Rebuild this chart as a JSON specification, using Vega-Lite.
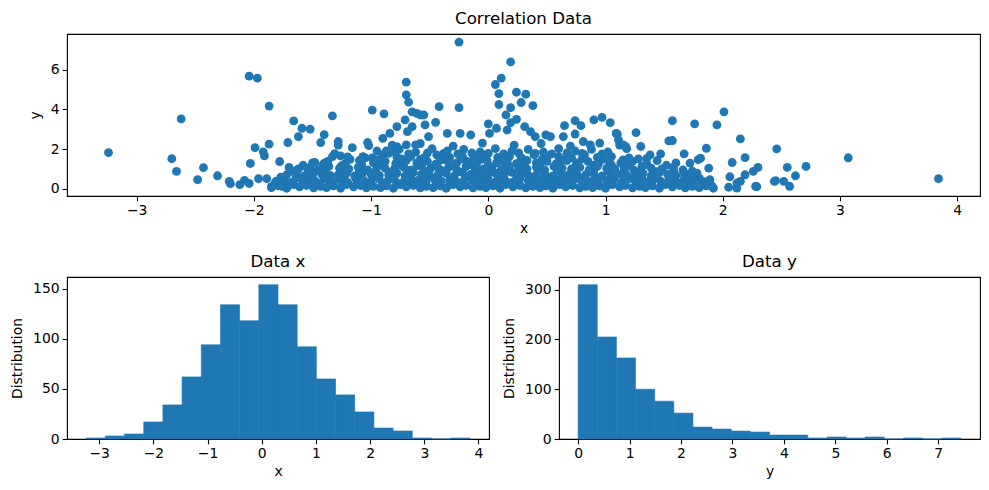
{
"$schema": "https://vega.github.io/schema/vega-lite/v6.json",
"padding": {"left": 10, "top": 10, "right": 5, "bottom": 5},
"bounds": "flush",
"spacing": 81,
"config": {
 "font": "DejaVu Sans",
 "view": {"stroke": "#000000", "strokeWidth": 1.1},
 "axis": {"grid": false, "domain": false, "ticks": true, "tickColor": "#000000", "tickSize": 4.86, "tickWidth": 1.1, "labelColor": "#000000", "labelFontSize": 13.9, "labelFont": "DejaVu Sans", "titleFont": "DejaVu Sans", "titleFontSize": 13.9, "titleFontWeight": "normal", "titleColor": "#000000", "labelPadding": 3, "titlePadding": 4, "labelFlush": false, "labelOverlap": false},
 "axisY": {"titlePadding": 8},
 "title": {"font": "DejaVu Sans", "fontSize": 16.67, "fontWeight": "normal", "color": "#000000", "offset": 6, "anchor": "middle", "frame": "group"}
},
"datasets": {
 "hx": [
  {"b0": -3.24, "b1": -2.886, "count": 1},
  {"b0": -2.886, "b1": -2.532, "count": 3},
  {"b0": -2.532, "b1": -2.178, "count": 5},
  {"b0": -2.178, "b1": -1.824, "count": 17},
  {"b0": -1.824, "b1": -1.47, "count": 34},
  {"b0": -1.47, "b1": -1.116, "count": 62},
  {"b0": -1.116, "b1": -0.762, "count": 94},
  {"b0": -0.762, "b1": -0.408, "count": 134},
  {"b0": -0.408, "b1": -0.054, "count": 118},
  {"b0": -0.054, "b1": 0.3, "count": 154},
  {"b0": 0.3, "b1": 0.654, "count": 134},
  {"b0": 0.654, "b1": 1.008, "count": 92},
  {"b0": 1.008, "b1": 1.362, "count": 60},
  {"b0": 1.362, "b1": 1.716, "count": 44},
  {"b0": 1.716, "b1": 2.07, "count": 27},
  {"b0": 2.07, "b1": 2.424, "count": 11},
  {"b0": 2.424, "b1": 2.778, "count": 8},
  {"b0": 2.778, "b1": 3.132, "count": 1},
  {"b0": 3.132, "b1": 3.486, "count": 0},
  {"b0": 3.486, "b1": 3.84, "count": 1}
 ],
 "hy": [
  {"b0": 0, "b1": 0.372, "count": 310},
  {"b0": 0.372, "b1": 0.744, "count": 205},
  {"b0": 0.744, "b1": 1.116, "count": 163},
  {"b0": 1.116, "b1": 1.488, "count": 100},
  {"b0": 1.488, "b1": 1.86, "count": 76},
  {"b0": 1.86, "b1": 2.232, "count": 52},
  {"b0": 2.232, "b1": 2.604, "count": 24},
  {"b0": 2.604, "b1": 2.976, "count": 20},
  {"b0": 2.976, "b1": 3.348, "count": 16},
  {"b0": 3.348, "b1": 3.72, "count": 14},
  {"b0": 3.72, "b1": 4.092, "count": 8},
  {"b0": 4.092, "b1": 4.464, "count": 8},
  {"b0": 4.464, "b1": 4.836, "count": 2},
  {"b0": 4.836, "b1": 5.208, "count": 4},
  {"b0": 5.208, "b1": 5.58, "count": 2},
  {"b0": 5.58, "b1": 5.952, "count": 4},
  {"b0": 5.952, "b1": 6.324, "count": 0},
  {"b0": 6.324, "b1": 6.696, "count": 2},
  {"b0": 6.696, "b1": 7.068, "count": 0},
  {"b0": 7.068, "b1": 7.44, "count": 2}
 ],
 "pts": [
  {"x":-1.85,"y":0.05},{"x":-1.79,"y":0.14},{"x":-1.72,"y":0.02},{"x":-1.66,"y":0.2},{"x":-1.61,"y":0.09},{"x":-1.55,"y":0.16},{"x":-1.49,"y":0.04},{"x":-1.43,"y":0.11},
  {"x":-1.38,"y":0.05},{"x":-1.32,"y":0.14},{"x":-1.26,"y":0.02},{"x":-1.21,"y":0.2},{"x":-1.15,"y":0.09},{"x":-1.09,"y":0.16},{"x":-1.04,"y":0.04},{"x":-0.98,"y":0.11},
  {"x":-0.92,"y":0.05},{"x":-0.87,"y":0.14},{"x":-0.81,"y":0.02},{"x":-0.75,"y":0.2},{"x":-0.70,"y":0.09},{"x":-0.64,"y":0.16},{"x":-0.58,"y":0.04},{"x":-0.53,"y":0.11},
  {"x":-0.47,"y":0.05},{"x":-0.41,"y":0.14},{"x":-0.36,"y":0.02},{"x":-0.30,"y":0.2},{"x":-0.24,"y":0.09},{"x":-0.19,"y":0.16},{"x":-0.13,"y":0.04},{"x":-0.07,"y":0.11},
  {"x":-0.02,"y":0.05},{"x":0.04,"y":0.14},{"x":0.10,"y":0.02},{"x":0.15,"y":0.2},{"x":0.21,"y":0.09},{"x":0.27,"y":0.16},{"x":0.32,"y":0.04},{"x":0.38,"y":0.11},
  {"x":0.44,"y":0.05},{"x":0.49,"y":0.14},{"x":0.55,"y":0.02},{"x":0.61,"y":0.2},{"x":0.66,"y":0.09},{"x":0.72,"y":0.16},{"x":0.78,"y":0.04},{"x":0.83,"y":0.11},
  {"x":0.89,"y":0.05},{"x":0.95,"y":0.14},{"x":1.00,"y":0.02},{"x":1.06,"y":0.2},{"x":1.12,"y":0.09},{"x":1.17,"y":0.16},{"x":1.23,"y":0.04},{"x":1.29,"y":0.11},
  {"x":1.34,"y":0.05},{"x":1.40,"y":0.14},{"x":1.46,"y":0.02},{"x":1.51,"y":0.2},{"x":1.57,"y":0.09},{"x":1.63,"y":0.16},{"x":1.68,"y":0.04},{"x":1.74,"y":0.11},
  {"x":1.80,"y":0.05},{"x":1.86,"y":0.14},{"x":1.92,"y":0.02},
  {"x":-1.82,"y":0.26},{"x":-1.69,"y":0.22},{"x":-1.58,"y":0.3},{"x":-1.46,"y":0.24},{"x":-1.35,"y":0.26},{"x":-1.24,"y":0.22},{"x":-1.12,"y":0.3},{"x":-1.01,"y":0.24},
  {"x":-0.9,"y":0.26},{"x":-0.78,"y":0.22},{"x":-0.67,"y":0.3},{"x":-0.56,"y":0.24},{"x":-0.44,"y":0.26},{"x":-0.33,"y":0.22},{"x":-0.22,"y":0.3},{"x":-0.1,"y":0.24},
  {"x":0.01,"y":0.26},{"x":0.12,"y":0.22},{"x":0.24,"y":0.3},{"x":0.35,"y":0.24},{"x":0.46,"y":0.26},{"x":0.58,"y":0.22},{"x":0.69,"y":0.3},{"x":0.8,"y":0.24},
  {"x":0.92,"y":0.26},{"x":1.03,"y":0.22},{"x":1.14,"y":0.3},{"x":1.26,"y":0.24},{"x":1.37,"y":0.26},{"x":1.48,"y":0.22},{"x":1.6,"y":0.3},{"x":1.71,"y":0.24},{"x":1.83,"y":0.26},
  {"x":-1.81,"y":0.38},{"x":-1.74,"y":0.45},{"x":-1.68,"y":0.32},{"x":-1.60,"y":0.5},{"x":-1.53,"y":0.41},{"x":-1.47,"y":0.35},{"x":-1.40,"y":0.48},
  {"x":-1.33,"y":0.38},{"x":-1.27,"y":0.45},{"x":-1.20,"y":0.32},{"x":-1.13,"y":0.5},{"x":-1.06,"y":0.41},{"x":-1.00,"y":0.35},{"x":-0.93,"y":0.48},
  {"x":-0.86,"y":0.38},{"x":-0.80,"y":0.45},{"x":-0.73,"y":0.32},{"x":-0.66,"y":0.5},{"x":-0.60,"y":0.41},{"x":-0.53,"y":0.35},{"x":-0.46,"y":0.48},
  {"x":-0.40,"y":0.38},{"x":-0.33,"y":0.45},{"x":-0.26,"y":0.32},{"x":-0.20,"y":0.5},{"x":-0.13,"y":0.41},{"x":-0.06,"y":0.35},{"x":0.00,"y":0.48},
  {"x":0.07,"y":0.38},{"x":0.14,"y":0.45},{"x":0.20,"y":0.32},{"x":0.27,"y":0.5},{"x":0.34,"y":0.41},{"x":0.41,"y":0.35},{"x":0.47,"y":0.48},
  {"x":0.54,"y":0.38},{"x":0.61,"y":0.45},{"x":0.67,"y":0.32},{"x":0.74,"y":0.5},{"x":0.81,"y":0.41},{"x":0.87,"y":0.35},{"x":0.94,"y":0.48},
  {"x":1.01,"y":0.38},{"x":1.07,"y":0.45},{"x":1.14,"y":0.32},{"x":1.21,"y":0.5},{"x":1.27,"y":0.41},{"x":1.34,"y":0.35},{"x":1.41,"y":0.48},
  {"x":1.47,"y":0.38},{"x":1.54,"y":0.45},{"x":1.61,"y":0.32},{"x":1.67,"y":0.5},{"x":1.74,"y":0.41},{"x":1.84,"y":0.35},
  {"x":-1.77,"y":0.58},{"x":-1.64,"y":0.55},{"x":-1.5,"y":0.6},{"x":-1.37,"y":0.52},{"x":-1.23,"y":0.58},{"x":-1.1,"y":0.55},{"x":-0.96,"y":0.6},{"x":-0.83,"y":0.52},
  {"x":-0.69,"y":0.58},{"x":-0.56,"y":0.55},{"x":-0.43,"y":0.6},{"x":-0.3,"y":0.52},{"x":-0.16,"y":0.58},{"x":-0.03,"y":0.55},{"x":0.1,"y":0.6},{"x":0.24,"y":0.52},
  {"x":0.37,"y":0.58},{"x":0.51,"y":0.55},{"x":0.64,"y":0.6},{"x":0.77,"y":0.52},{"x":0.91,"y":0.58},{"x":1.04,"y":0.55},{"x":1.17,"y":0.6},{"x":1.31,"y":0.52},
  {"x":1.44,"y":0.58},{"x":1.57,"y":0.55},{"x":1.71,"y":0.6},{"x":1.8,"y":0.52},
  {"x":-1.72,"y":0.7},{"x":-1.64,"y":0.78},{"x":-1.57,"y":0.64},{"x":-1.49,"y":0.82},{"x":-1.42,"y":0.72},{"x":-1.35,"y":0.67},
  {"x":-1.28,"y":0.7},{"x":-1.21,"y":0.78},{"x":-1.14,"y":0.64},{"x":-1.07,"y":0.82},{"x":-1.00,"y":0.72},{"x":-0.93,"y":0.67},
  {"x":-0.85,"y":0.7},{"x":-0.78,"y":0.78},{"x":-0.71,"y":0.64},{"x":-0.64,"y":0.82},{"x":-0.57,"y":0.72},{"x":-0.50,"y":0.67},
  {"x":-0.43,"y":0.7},{"x":-0.36,"y":0.78},{"x":-0.29,"y":0.64},{"x":-0.22,"y":0.82},{"x":-0.15,"y":0.72},{"x":-0.08,"y":0.67},
  {"x":-0.01,"y":0.7},{"x":0.06,"y":0.78},{"x":0.13,"y":0.64},{"x":0.20,"y":0.82},{"x":0.27,"y":0.72},{"x":0.34,"y":0.67},
  {"x":0.41,"y":0.7},{"x":0.48,"y":0.78},{"x":0.55,"y":0.64},{"x":0.62,"y":0.82},{"x":0.69,"y":0.72},{"x":0.76,"y":0.67},
  {"x":0.83,"y":0.7},{"x":0.90,"y":0.78},{"x":0.97,"y":0.64},{"x":1.04,"y":0.82},{"x":1.11,"y":0.72},{"x":1.18,"y":0.67},
  {"x":1.25,"y":0.7},{"x":1.32,"y":0.78},{"x":1.39,"y":0.64},{"x":1.46,"y":0.82},{"x":1.53,"y":0.72},{"x":1.60,"y":0.67},
  {"x":1.70,"y":0.7},{"x":1.78,"y":0.78},
  {"x":-1.68,"y":0.88},{"x":-1.53,"y":0.9},{"x":-1.39,"y":0.86},{"x":-1.24,"y":0.92},{"x":-1.1,"y":0.88},{"x":-0.96,"y":0.9},{"x":-0.82,"y":0.86},{"x":-0.68,"y":0.92},
  {"x":-0.54,"y":0.88},{"x":-0.39,"y":0.9},{"x":-0.25,"y":0.86},{"x":-0.11,"y":0.92},{"x":0.03,"y":0.88},{"x":0.17,"y":0.9},{"x":0.31,"y":0.86},{"x":0.45,"y":0.92},
  {"x":0.59,"y":0.88},{"x":0.74,"y":0.9},{"x":0.88,"y":0.86},{"x":1.02,"y":0.92},{"x":1.16,"y":0.88},{"x":1.3,"y":0.9},{"x":1.44,"y":0.86},{"x":1.58,"y":0.92},{"x":1.74,"y":0.88},
  {"x":-1.62,"y":1.0},{"x":-1.52,"y":1.08},{"x":-1.45,"y":0.95},{"x":-1.36,"y":1.12},{"x":-1.27,"y":1.03},
  {"x":-1.19,"y":1.0},{"x":-1.11,"y":1.08},{"x":-1.03,"y":0.95},{"x":-0.95,"y":1.12},{"x":-0.88,"y":1.03},
  {"x":-0.80,"y":1.0},{"x":-0.72,"y":1.08},{"x":-0.65,"y":0.95},{"x":-0.57,"y":1.12},{"x":-0.49,"y":1.03},
  {"x":-0.42,"y":1.0},{"x":-0.34,"y":1.08},{"x":-0.27,"y":0.95},{"x":-0.19,"y":1.12},{"x":-0.11,"y":1.03},
  {"x":-0.04,"y":1.0},{"x":0.03,"y":1.08},{"x":0.11,"y":0.95},{"x":0.18,"y":1.12},{"x":0.26,"y":1.03},
  {"x":0.33,"y":1.0},{"x":0.41,"y":1.08},{"x":0.48,"y":0.95},{"x":0.56,"y":1.12},{"x":0.63,"y":1.03},
  {"x":0.71,"y":1.0},{"x":0.78,"y":1.08},{"x":0.86,"y":0.95},{"x":0.93,"y":1.12},{"x":1.01,"y":1.03},
  {"x":1.08,"y":1.0},{"x":1.16,"y":1.08},{"x":1.24,"y":0.95},{"x":1.31,"y":1.12},{"x":1.39,"y":1.03},
  {"x":1.48,"y":1.0},{"x":1.58,"y":1.08},{"x":1.66,"y":0.95},
  {"x":-1.58,"y":1.18},{"x":-1.41,"y":1.2},{"x":-1.25,"y":1.16},{"x":-1.08,"y":1.22},{"x":-0.92,"y":1.18},{"x":-0.76,"y":1.2},{"x":-0.6,"y":1.16},
  {"x":-0.45,"y":1.22},{"x":-0.3,"y":1.18},{"x":-0.15,"y":1.2},{"x":0.0,"y":1.16},{"x":0.14,"y":1.22},{"x":0.29,"y":1.18},{"x":0.44,"y":1.2},
  {"x":0.6,"y":1.16},{"x":0.75,"y":1.22},{"x":0.9,"y":1.18},{"x":1.05,"y":1.2},{"x":1.2,"y":1.16},{"x":1.35,"y":1.22},{"x":1.52,"y":1.18},
  {"x":-1.50,"y":1.3},{"x":-1.37,"y":1.38},{"x":-1.22,"y":1.26},{"x":-1.10,"y":1.42},
  {"x":-0.98,"y":1.3},{"x":-0.88,"y":1.38},{"x":-0.79,"y":1.26},{"x":-0.70,"y":1.42},
  {"x":-0.61,"y":1.3},{"x":-0.52,"y":1.38},{"x":-0.44,"y":1.26},{"x":-0.35,"y":1.42},
  {"x":-0.27,"y":1.3},{"x":-0.18,"y":1.38},{"x":-0.10,"y":1.26},{"x":-0.01,"y":1.42},
  {"x":0.07,"y":1.3},{"x":0.16,"y":1.38},{"x":0.24,"y":1.26},{"x":0.33,"y":1.42},
  {"x":0.41,"y":1.3},{"x":0.50,"y":1.38},{"x":0.58,"y":1.26},{"x":0.67,"y":1.42},
  {"x":0.76,"y":1.3},{"x":0.85,"y":1.38},{"x":0.94,"y":1.26},{"x":1.03,"y":1.42},
  {"x":1.13,"y":1.3},{"x":1.23,"y":1.38},{"x":1.35,"y":1.26},{"x":1.44,"y":1.42},
  {"x":1.60,"y":1.3},
  {"x":-1.18,"y":1.48},{"x":-0.94,"y":1.45},{"x":-0.74,"y":1.5},{"x":-0.58,"y":1.48},{"x":-0.4,"y":1.45},{"x":-0.23,"y":1.5},{"x":-0.06,"y":1.48},{"x":0.12,"y":1.45},
  {"x":0.29,"y":1.5},{"x":0.46,"y":1.48},{"x":0.63,"y":1.45},{"x":0.8,"y":1.5},{"x":0.98,"y":1.48},{"x":1.15,"y":1.45},{"x":1.28,"y":1.5},
  {"x":-1.33,"y":1.62},{"x":-1.05,"y":1.55},{"x":-0.90,"y":1.7},{"x":-0.78,"y":1.58},
  {"x":-0.66,"y":1.62},{"x":-0.55,"y":1.55},{"x":-0.44,"y":1.7},{"x":-0.33,"y":1.58},
  {"x":-0.22,"y":1.62},{"x":-0.12,"y":1.55},{"x":-0.02,"y":1.7},{"x":0.08,"y":1.58},
  {"x":0.18,"y":1.62},{"x":0.28,"y":1.55},{"x":0.39,"y":1.7},{"x":0.50,"y":1.58},
  {"x":0.60,"y":1.62},{"x":0.71,"y":1.55},{"x":0.82,"y":1.7},{"x":0.93,"y":1.58},
  {"x":1.05,"y":1.62},{"x":1.20,"y":1.55},{"x":1.38,"y":1.7},
  {"x":-0.85,"y":1.78},{"x":-0.68,"y":1.75},{"x":-0.52,"y":1.8},{"x":-0.38,"y":1.78},{"x":-0.26,"y":1.75},{"x":-0.14,"y":1.8},{"x":0.0,"y":1.78},
  {"x":0.13,"y":1.75},{"x":0.26,"y":1.8},{"x":0.4,"y":1.78},{"x":0.54,"y":1.75},{"x":0.67,"y":1.8},{"x":0.8,"y":1.78},{"x":0.97,"y":1.75},
  {"x":-0.95,"y":1.9},{"x":-0.76,"y":1.98},{"x":-0.62,"y":1.85},{"x":-0.48,"y":2.02},{"x":-0.35,"y":1.9},{"x":-0.21,"y":1.98},{"x":-0.07,"y":1.85},{"x":0.06,"y":2.02},
  {"x":0.2,"y":1.9},{"x":0.34,"y":1.98},{"x":0.47,"y":1.85},{"x":0.6,"y":2.02},{"x":0.74,"y":1.9},{"x":0.88,"y":1.98},{"x":1.02,"y":1.85},{"x":1.18,"y":2.02},
  {"x":-0.82,"y":2.2},{"x":-0.58,"y":2.28},{"x":-0.3,"y":2.15},{"x":-0.05,"y":2.3},{"x":0.22,"y":2.2},{"x":0.45,"y":2.28},{"x":0.7,"y":2.15},{"x":0.95,"y":2.3},{"x":1.12,"y":2.2},
  {"x":-3.24,"y":1.82},{"x":-2.70,"y":1.51},{"x":-2.66,"y":0.87},{"x":-2.62,"y":3.52},{"x":-2.48,"y":0.45},{"x":-2.43,"y":1.06},{"x":-2.31,"y":0.65},{"x":-2.21,"y":0.37},
  {"x":-2.20,"y":0.25},{"x":-2.12,"y":0.2},{"x":-2.08,"y":0.42},{"x":-2.04,"y":5.68},{"x":-1.97,"y":5.58},{"x":-2.03,"y":1.27},{"x":-2.04,"y":0.26},{"x":-1.99,"y":2.07},
  {"x":-1.96,"y":0.5},{"x":-1.92,"y":1.86},{"x":-1.91,"y":1.66},{"x":-1.87,"y":4.17},{"x":-1.87,"y":2.25},{"x":-1.89,"y":0.5},{"x":-1.85,"y":0.1},{"x":-1.78,"y":1.37},
  {"x":-1.71,"y":2.33},{"x":-1.66,"y":3.42},{"x":-1.62,"y":2.63},{"x":-1.59,"y":3.05},{"x":-1.52,"y":3.01},{"x":-1.40,"y":2.73},{"x":-1.43,"y":2.33},{"x":-1.33,"y":3.68},
  {"x":-1.28,"y":2.38},{"x":-1.28,"y":2.2},{"x":-1.16,"y":2.07},{"x":-1.31,"y":1.77},{"x":-1.26,"y":1.65},{"x":-1.2,"y":1.6},{"x":-1.07,"y":1.62},{"x":-1.03,"y":2.33},
  {"x":-1.02,"y":2.17},{"x":-0.99,"y":3.97},{"x":-0.99,"y":1.55},{"x":-1.48,"y":1.32},{"x":-1.70,"y":1.07},{"x":-1.63,"y":0.95},{"x":-1.54,"y":0.95},{"x":-1.76,"y":0.12},
  {"x":-1.40,"y":1.29},
  {"x":-0.89,"y":3.78},{"x":-0.70,"y":5.38},{"x":-0.70,"y":4.74},{"x":-0.68,"y":4.37},{"x":-0.65,"y":3.88},{"x":-0.61,"y":3.8},{"x":-0.71,"y":3.47},{"x":-0.78,"y":3.13},
  {"x":-0.84,"y":2.79},{"x":-0.9,"y":2.54},{"x":-0.65,"y":3.13},{"x":-0.69,"y":2.88},{"x":-0.87,"y":1.91},{"x":-0.78,"y":2.12},{"x":-0.8,"y":1.87},{"x":-0.70,"y":2.21},
  {"x":-0.62,"y":2.21},{"x":-0.58,"y":3.72},{"x":-0.55,"y":3.72},{"x":-0.54,"y":3.22},{"x":-0.45,"y":3.35},{"x":-0.51,"y":2.63},{"x":-0.42,"y":4.14},{"x":-0.35,"y":2.79},
  {"x":-0.24,"y":2.79},{"x":-0.15,"y":2.71},{"x":-0.25,"y":7.40},{"x":-0.25,"y":4.09},
  {"x":0.19,"y":6.40},{"x":0.11,"y":5.58},{"x":0.06,"y":5.26},{"x":0.09,"y":4.80},{"x":0.09,"y":4.25},{"x":0.24,"y":4.87},{"x":0.32,"y":4.77},{"x":0.28,"y":4.35},
  {"x":0.38,"y":4.19},{"x":0.19,"y":4.09},{"x":0.0,"y":3.27},{"x":0.07,"y":3.05},{"x":0.01,"y":2.79},{"x":0.15,"y":3.72},{"x":0.19,"y":3.33},{"x":0.16,"y":2.96},
  {"x":0.24,"y":3.5},{"x":0.31,"y":3.13},{"x":0.36,"y":2.88},{"x":0.40,"y":2.63},{"x":0.49,"y":2.71},{"x":0.53,"y":2.63},{"x":0.65,"y":3.18},{"x":0.74,"y":3.43},
  {"x":0.79,"y":3.18},{"x":0.74,"y":2.76},{"x":0.64,"y":2.63},{"x":0.90,"y":3.47},{"x":0.97,"y":3.6},{"x":1.04,"y":3.33},{"x":1.09,"y":2.79},{"x":1.11,"y":2.46},
  {"x":1.17,"y":2.13},{"x":1.26,"y":2.83},{"x":1.30,"y":2.13},{"x":1.57,"y":3.43},{"x":1.54,"y":2.41},{"x":1.57,"y":2.43},{"x":1.47,"y":1.76},{"x":0.81,"y":2.38},
  {"x":0.87,"y":2.21},{"x":1.10,"y":2.76},{"x":1.15,"y":2.21},{"x":1.67,"y":1.76},{"x":1.35,"y":1.51},
  {"x":2.01,"y":3.88},{"x":1.95,"y":3.22},{"x":1.76,"y":3.27},{"x":2.15,"y":2.51},{"x":2.46,"y":2.01},{"x":2.19,"y":1.57},{"x":2.08,"y":1.32},{"x":2.30,"y":1.07},
  {"x":2.26,"y":0.87},{"x":2.19,"y":0.7},{"x":2.06,"y":0.6},{"x":2.12,"y":0.28},{"x":2.05,"y":0.07},{"x":2.28,"y":0.12},{"x":2.44,"y":0.37},{"x":1.86,"y":2.04},
  {"x":1.81,"y":1.54},{"x":1.88,"y":1.04},{"x":1.91,"y":0.12},{"x":3.84,"y":0.50},{"x":3.07,"y":1.56},{"x":2.71,"y":1.12},{"x":2.62,"y":0.65},{"x":2.55,"y":1.07},
  {"x":2.57,"y":0.12},{"x":2.52,"y":0.37},{"x":2.45,"y":0.4},{"x":2.15,"y":0.37},{"x":2.12,"y":0.03},{"x":2.29,"y":0.1},{"x":1.89,"y":0.45},{"x":1.79,"y":1.46},
  {"x":1.72,"y":1.29},{"x":1.67,"y":0.78},{"x":1.76,"y":0.62},{"x":1.79,"y":0.12},{"x":1.67,"y":0.2}
 ]
},
"vconcat": [
 {
  "width": 913, "height": 162,
  "data": {"name": "pts"},
  "title": {"text": "Correlation Data"},
  "mark": {"type": "circle", "size": 78, "opacity": 1, "color": "#1f77b4"},
  "encoding": {
   "x": {"field": "x", "type": "quantitative", "scale": {"domain": [-3.594, 4.194], "nice": false, "zero": false}, "axis": {"values": [-3, -2, -1, 0, 1, 2, 3, 4], "title": "x"}},
   "y": {"field": "y", "type": "quantitative", "scale": {"domain": [-0.372, 7.812], "nice": false, "zero": false}, "axis": {"values": [0, 2, 4, 6], "title": "y"}}
  }
 },
 {
  "hconcat": [
   {
    "width": 422, "height": 162,
    "data": {"name": "hx"},
    "title": {"text": "Data x"},
    "mark": {"type": "bar", "color": "#1f77b4", "stroke": "#1f77b4", "strokeWidth": 0.6},
    "encoding": {
     "x": {"field": "b0", "type": "quantitative", "scale": {"domain": [-3.594, 4.194], "nice": false, "zero": false}, "axis": {"values": [-3, -2, -1, 0, 1, 2, 3, 4], "title": "x"}},
     "x2": {"field": "b1"},
     "y": {"field": "count", "type": "quantitative", "scale": {"domain": [0, 161.7], "nice": false}, "axis": {"values": [0, 50, 100, 150], "title": "Distribution"}},
     "y2": {"datum": 0}
    }
   },
   {
    "width": 421, "height": 162,
    "data": {"name": "hy"},
    "title": {"text": "Data y"},
    "mark": {"type": "bar", "color": "#1f77b4", "stroke": "#1f77b4", "strokeWidth": 0.6},
    "encoding": {
     "x": {"field": "b0", "type": "quantitative", "scale": {"domain": [-0.372, 7.812], "nice": false, "zero": false}, "axis": {"values": [0, 1, 2, 3, 4, 5, 6, 7], "title": "y"}},
     "x2": {"field": "b1"},
     "y": {"field": "count", "type": "quantitative", "scale": {"domain": [0, 325.5], "nice": false}, "axis": {"values": [0, 100, 200, 300], "title": "Distribution"}},
     "y2": {"datum": 0}
    }
   }
  ],
  "spacing": 70,
  "bounds": "flush"
 }
]
}
